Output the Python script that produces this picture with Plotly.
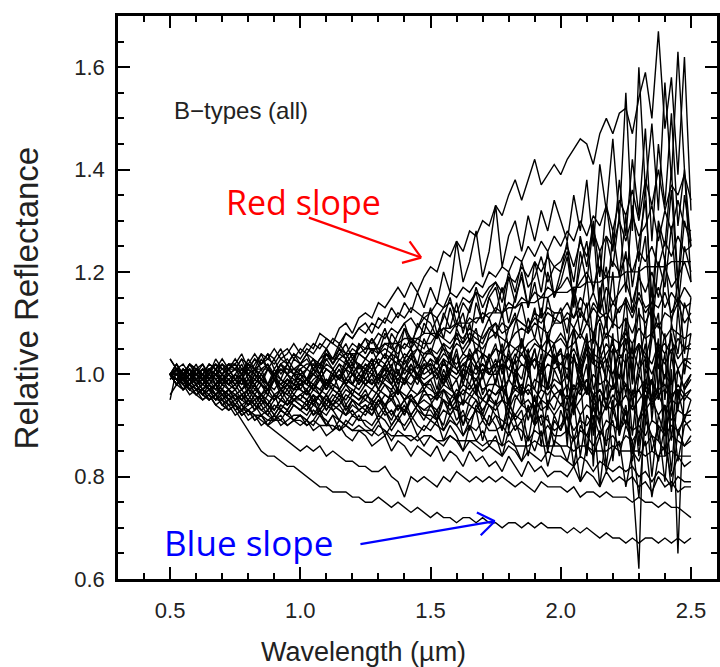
import math
import plotly.graph_objects as go

# Wavelength sampling (micrometres)
WAVELENGTH = [
    0.500, 0.525, 0.550, 0.575, 0.600, 0.625, 0.650, 0.675, 0.700, 0.725,
    0.750, 0.775, 0.800, 0.825, 0.850, 0.875, 0.900, 0.925, 0.950, 0.975,
    1.000, 1.025, 1.050, 1.075, 1.100, 1.125, 1.150, 1.175, 1.200, 1.225,
    1.250, 1.275, 1.300, 1.325, 1.350, 1.375, 1.400, 1.425, 1.450, 1.475,
    1.500, 1.525, 1.550, 1.575, 1.600, 1.625, 1.650, 1.675, 1.700, 1.725,
    1.750, 1.775, 1.800, 1.825, 1.850, 1.875, 1.900, 1.925, 1.950, 1.975,
    2.000, 2.025, 2.050, 2.075, 2.100, 2.125, 2.150, 2.175, 2.200, 2.225,
    2.250, 2.275, 2.300, 2.325, 2.350, 2.375, 2.400, 2.425, 2.450, 2.475,
    2.500,
]

# Relative reflectance of each B-type spectrum, in percent
spec_01 = [99, 101, 100, 102, 100, 99, 101, 100, 102, 101,
           103, 101, 102, 104, 102, 103, 105, 103, 104, 106,
           104, 106, 105, 108, 107, 106, 109, 110, 108, 111,
           112, 111, 114, 113, 115, 117, 115, 118, 116, 119,
           121, 120, 124, 123, 126, 124, 128, 127, 130, 129,
           133, 131, 135, 138, 134, 138, 142, 137, 139, 141,
           139, 142, 144, 146, 145, 141, 147, 150, 147, 151,
           152, 147, 154, 159, 150, 167, 148, 158, 139, 162,
           132]
spec_02 = [100, 99, 101, 100, 101, 102, 100, 103, 101, 102,
           102, 104, 101, 103, 102, 104, 103, 105, 102, 104,
           103, 105, 104, 106, 105, 107, 106, 108, 107, 109,
           110, 108, 111, 110, 113, 111, 114, 112, 116, 113,
           117, 114, 120, 116, 126, 118, 122, 128, 119, 124,
           133, 121, 127, 130, 124, 131, 126, 132, 128, 134,
           130, 126, 135, 128, 138, 125, 141, 132, 146, 130,
           155, 128, 160, 136, 149, 132, 157, 138, 163, 140,
           125]
spec_03 = [100, 102, 100, 101, 99, 101, 100, 102, 101, 100,
           101, 103, 102, 101, 104, 103, 102, 104, 105, 103,
           105, 104, 106, 105, 107, 106, 105, 108, 107, 109,
           108, 110, 109, 111, 110, 112, 111, 113, 112, 111,
           112, 114, 113, 116, 115, 117, 116, 118, 117, 120,
           119, 121, 120, 123, 122, 125, 123, 126, 124, 127,
           125, 128, 126, 130, 127, 131, 129, 133, 128, 134,
           131, 136, 130, 138, 133, 140, 132, 137, 135, 139,
           134]
spec_04 = [100, 98, 100, 99, 100, 101, 99, 100, 98, 99,
           100, 99, 101, 100, 98, 101, 100, 102, 101, 100,
           102, 101, 103, 102, 104, 103, 105, 104, 106, 105,
           107, 106, 108, 107, 109, 108, 110, 111, 109, 112,
           112, 111, 113, 114, 112, 115, 114, 116, 115, 117,
           118, 116, 119, 118, 121, 119, 122, 120, 123, 121,
           122, 125, 121, 126, 123, 128, 124, 127, 125, 130,
           126, 131, 127, 129, 133, 126, 132, 128, 134, 129,
           128]
spec_05 = [100, 101, 99, 102, 100, 98, 101, 99, 100, 102,
           101, 99, 102, 100, 103, 101, 99, 102, 100, 103,
           102, 104, 101, 103, 105, 102, 104, 106, 103, 105,
           107, 104, 106, 109, 105, 108, 110, 106, 109, 111,
           110, 107, 112, 109, 114, 108, 113, 116, 110, 115,
           117, 111, 119, 114, 120, 113, 122, 116, 124, 115,
           120, 126, 113, 124, 118, 129, 112, 127, 121, 131,
           116, 133, 122, 137, 110, 130, 125, 140, 118, 135,
           126]
spec_06 = [99, 100, 98, 100, 99, 97, 99, 98, 100, 98,
           99, 97, 98, 100, 99, 98, 100, 99, 98, 100,
           100, 99, 101, 100, 102, 101, 103, 102, 101, 104,
           103, 102, 104, 105, 104, 106, 105, 107, 106, 105,
           108, 107, 109, 108, 110, 109, 111, 110, 112, 111,
           113, 112, 114, 113, 115, 114, 116, 115, 117, 116,
           117, 119, 116, 118, 120, 117, 121, 119, 122, 120,
           123, 120, 124, 122, 125, 121, 126, 123, 127, 124,
           125]
spec_07 = [100, 100, 101, 100, 100, 101, 101, 100, 101, 101,
           101, 101, 100, 101, 101, 101, 100, 101, 101, 101,
           101, 102, 102, 102, 103, 103, 103, 104, 104, 104,
           105, 105, 105, 106, 106, 106, 107, 107, 107, 108,
           108, 108, 109, 109, 110, 110, 110, 111, 111, 112,
           112, 112, 113, 113, 114, 114, 114, 115, 115, 116,
           116, 116, 117, 117, 118, 118, 118, 119, 119, 119,
           120, 120, 120, 121, 121, 121, 121, 122, 122, 122,
           122]
spec_08 = [100, 99, 100, 98, 99, 100, 98, 97, 99, 98,
           97, 99, 98, 96, 98, 97, 99, 98, 97, 99,
           99, 98, 100, 99, 101, 100, 99, 101, 102, 100,
           102, 101, 103, 102, 104, 103, 102, 104, 105, 103,
           105, 104, 106, 105, 107, 106, 108, 107, 106, 109,
           108, 110, 109, 111, 110, 109, 112, 111, 113, 112,
           112, 114, 111, 115, 113, 116, 112, 117, 114, 116,
           118, 114, 119, 116, 120, 115, 121, 117, 119, 122,
           118]
spec_09 = [103, 101, 99, 101, 100, 99, 101, 98, 100, 99,
           98, 100, 97, 99, 98, 96, 99, 97, 98, 96,
           98, 97, 99, 100, 97, 100, 99, 101, 98, 102,
           100, 103, 99, 102, 104, 100, 103, 105, 101, 104,
           105, 102, 106, 103, 108, 104, 106, 109, 103, 108,
           110, 104, 109, 112, 105, 111, 107, 113, 106, 112,
           112, 105, 116, 108, 114, 102, 117, 109, 120, 104,
           115, 99, 121, 108, 117, 96, 123, 110, 118, 104,
           115]
spec_10 = [100, 101, 100, 99, 101, 100, 102, 101, 100, 102,
           101, 100, 102, 101, 99, 101, 100, 102, 100, 101,
           100, 101, 100, 102, 101, 100, 102, 101, 103, 102,
           101, 103, 102, 104, 103, 102, 104, 103, 105, 104,
           104, 103, 105, 104, 106, 105, 107, 106, 105, 107,
           108, 107, 106, 108, 109, 108, 110, 109, 108, 110,
           110, 111, 109, 112, 110, 113, 111, 112, 110, 113,
           114, 111, 115, 112, 114, 113, 116, 112, 115, 113,
           114]
spec_11 = [100, 98, 99, 97, 98, 99, 97, 96, 98, 97,
           96, 97, 95, 97, 96, 98, 96, 97, 95, 97,
           97, 96, 98, 97, 99, 98, 97, 99, 98, 100,
           99, 98, 100, 99, 101, 100, 99, 101, 100, 102,
           102, 101, 103, 102, 101, 103, 104, 102, 104, 103,
           105, 104, 106, 105, 104, 106, 107, 105, 107, 106,
           108, 106, 109, 107, 110, 108, 111, 107, 110, 109,
           111, 108, 112, 110, 113, 109, 112, 111, 114, 110,
           112]
spec_12 = [100, 99, 101, 100, 98, 100, 99, 101, 99, 98,
           100, 98, 99, 97, 99, 98, 100, 97, 99, 98,
           98, 99, 97, 100, 98, 99, 101, 98, 100, 99,
           101, 98, 100, 102, 99, 101, 98, 102, 100, 103,
           101, 99, 103, 100, 104, 98, 102, 105, 99, 103,
           106, 100, 104, 98, 107, 101, 105, 97, 108, 102,
           105, 96, 109, 100, 106, 93, 110, 102, 107, 95,
           111, 98, 106, 90, 112, 101, 108, 94, 113, 100,
           108]
spec_13 = [100, 100, 99, 98, 100, 99, 97, 98, 99, 97,
           98, 96, 97, 98, 96, 97, 95, 97, 96, 98,
           97, 96, 98, 97, 96, 98, 97, 99, 98, 97,
           99, 98, 100, 99, 98, 100, 99, 101, 100, 99,
           100, 101, 99, 101, 100, 102, 101, 100, 102, 101,
           102, 101, 103, 102, 104, 102, 103, 101, 104, 103,
           104, 103, 105, 102, 106, 104, 103, 106, 104, 105,
           107, 104, 106, 103, 108, 105, 106, 104, 107, 105,
           106]
spec_14 = [100, 101, 99, 100, 98, 99, 97, 98, 96, 97,
           96, 95, 97, 96, 94, 96, 95, 97, 96, 95,
           96, 97, 95, 96, 98, 97, 96, 98, 97, 96,
           98, 97, 99, 98, 97, 99, 98, 100, 99, 98,
           99, 100, 98, 100, 99, 101, 100, 99, 101, 100,
           100, 102, 101, 100, 102, 101, 103, 100, 102, 101,
           102, 101, 103, 100, 104, 102, 101, 103, 100, 104,
           102, 105, 101, 103, 100, 104, 102, 105, 101, 103,
           103]
spec_15 = [103, 101, 100, 99, 101, 100, 98, 100, 99, 101,
           99, 100, 98, 101, 99, 97, 100, 98, 99, 97,
           98, 99, 97, 99, 98, 100, 97, 99, 98, 100,
           98, 99, 97, 100, 98, 96, 99, 97, 100, 98,
           98, 95, 100, 97, 99, 94, 101, 97, 100, 95,
           99, 102, 94, 100, 97, 103, 92, 101, 98, 104,
           100, 91, 104, 97, 102, 88, 105, 99, 93, 103,
           96, 106, 86, 101, 98, 107, 89, 104, 95, 102,
           101]
spec_16 = [100, 99, 98, 99, 97, 98, 97, 96, 97, 95,
           96, 95, 94, 96, 95, 94, 96, 95, 94, 95,
           96, 95, 94, 96, 95, 97, 96, 95, 97, 96,
           95, 97, 96, 98, 96, 97, 95, 97, 96, 98,
           97, 96, 98, 97, 96, 98, 97, 99, 97, 98,
           98, 97, 99, 97, 98, 96, 99, 98, 97, 99,
           98, 100, 97, 99, 96, 100, 98, 99, 97, 100,
           98, 96, 100, 97, 99, 95, 100, 98, 101, 97,
           99]
spec_17 = [100, 98, 100, 97, 98, 96, 97, 95, 96, 94,
           95, 93, 94, 95, 93, 94, 92, 94, 93, 95,
           94, 93, 95, 94, 96, 94, 95, 93, 95, 94,
           96, 95, 94, 96, 95, 97, 95, 96, 94, 96,
           96, 95, 97, 96, 95, 97, 96, 98, 95, 97,
           96, 98, 95, 97, 96, 98, 97, 95, 98, 96,
           97, 95, 98, 96, 99, 95, 97, 94, 98, 96,
           98, 95, 97, 94, 99, 96, 97, 95, 98, 96,
           97]
spec_18 = [100, 101, 99, 100, 98, 99, 97, 98, 97, 96,
           97, 95, 96, 94, 96, 95, 93, 95, 94, 96,
           95, 97, 94, 96, 93, 95, 97, 94, 96, 95,
           97, 94, 96, 93, 97, 95, 92, 96, 94, 97,
           95, 91, 97, 94, 96, 90, 95, 97, 92, 96,
           94, 98, 89, 95, 97, 91, 96, 86, 95, 93,
           97, 88, 94, 99, 85, 96, 92, 98, 83, 95,
           90, 97, 84, 95, 99, 87, 94, 81, 97, 91,
           95]
spec_19 = [100, 99, 97, 98, 96, 97, 95, 96, 94, 95,
           94, 93, 95, 94, 93, 92, 94, 93, 92, 94,
           93, 94, 92, 93, 95, 94, 93, 92, 94, 93,
           94, 93, 95, 94, 92, 94, 93, 95, 94, 93,
           94, 93, 95, 94, 93, 95, 94, 93, 95, 94,
           93, 95, 94, 92, 94, 93, 95, 93, 94, 92,
           94, 93, 95, 92, 94, 93, 91, 94, 93, 95,
           92, 94, 91, 93, 95, 92, 94, 91, 93, 92,
           93]
spec_20 = [96, 98, 99, 97, 98, 96, 97, 95, 97, 96,
           95, 96, 94, 96, 95, 93, 95, 96, 94, 95,
           95, 94, 96, 93, 95, 94, 96, 93, 95, 94,
           93, 95, 92, 94, 96, 93, 95, 92, 94, 93,
           93, 91, 95, 92, 94, 90, 93, 95, 91, 94,
           92, 89, 95, 91, 93, 87, 94, 90, 92, 86,
           93, 89, 95, 84, 92, 90, 96, 82, 93, 89,
           94, 85, 91, 95, 80, 92, 88, 94, 83, 90,
           91]
spec_21 = [100, 99, 98, 96, 97, 95, 96, 94, 95, 93,
           94, 92, 93, 94, 92, 93, 91, 93, 92, 94,
           93, 92, 94, 93, 92, 94, 93, 92, 93, 91,
           93, 92, 94, 92, 93, 91, 93, 92, 94, 92,
           92, 91, 93, 92, 90, 92, 91, 93, 92, 90,
           92, 91, 90, 92, 91, 93, 90, 92, 91, 89,
           90, 92, 89, 91, 90, 92, 88, 91, 90, 89,
           91, 89, 90, 88, 91, 90, 88, 90, 89, 91,
           89]
spec_22 = [95, 101, 99, 98, 99, 97, 98, 96, 97, 95,
           96, 94, 95, 93, 95, 94, 92, 94, 93, 95,
           94, 93, 95, 92, 94, 93, 91, 94, 92, 93,
           92, 94, 91, 93, 90, 92, 94, 91, 93, 92,
           91, 93, 89, 92, 94, 88, 91, 93, 87, 92,
           90, 86, 92, 89, 91, 84, 90, 92, 85, 91,
           89, 92, 82, 90, 88, 92, 78, 89, 91, 84,
           90, 87, 76, 91, 88, 83, 90, 77, 89, 86,
           87]
spec_23 = [100, 99, 99, 98, 97, 97, 96, 95, 95, 94,
           94, 93, 93, 92, 92, 91, 91, 91, 90, 91,
           91, 90, 91, 90, 90, 90, 89, 90, 89, 89,
           89, 89, 88, 89, 88, 88, 88, 88, 87, 88,
           88, 87, 87, 88, 87, 87, 87, 87, 86, 87,
           87, 86, 87, 86, 86, 86, 87, 86, 86, 86,
           86, 86, 85, 86, 86, 85, 85, 85, 86, 85,
           85, 85, 85, 84, 85, 84, 84, 85, 84, 84,
           84]
spec_24 = [100, 98, 99, 97, 96, 97, 95, 96, 94, 93,
           94, 92, 93, 91, 92, 90, 92, 91, 93, 91,
           92, 90, 91, 93, 90, 92, 89, 91, 90, 92,
           90, 89, 91, 88, 90, 92, 89, 91, 88, 90,
           89, 91, 87, 90, 88, 85, 90, 87, 89, 86,
           88, 84, 89, 86, 83, 88, 85, 89, 82, 87,
           86, 83, 88, 79, 86, 84, 88, 81, 85, 87,
           78, 85, 83, 87, 76, 84, 86, 80, 84, 82,
           83]
spec_25 = [100, 99, 97, 98, 96, 95, 96, 94, 93, 94,
           92, 93, 91, 92, 90, 91, 92, 90, 91, 92,
           92, 91, 90, 92, 91, 89, 91, 90, 89, 90,
           89, 88, 90, 89, 87, 89, 88, 87, 88, 86,
           88, 87, 86, 88, 87, 85, 87, 86, 85, 86,
           85, 84, 86, 85, 83, 85, 84, 83, 85, 84,
           84, 83, 82, 84, 83, 81, 83, 82, 81, 82,
           81, 82, 80, 81, 79, 81, 80, 78, 80, 79,
           79]
spec_26 = [100, 99, 100, 98, 99, 97, 98, 96, 97, 95,
           96, 94, 93, 92, 91, 90, 89, 88, 87, 86,
           85, 86, 85, 86, 84, 85, 84, 83, 83, 82,
           82, 81, 81, 82, 80, 79, 76, 80, 79, 80,
           79, 78, 80, 79, 81, 80, 79, 80, 79, 80,
           79, 80, 79, 78, 79, 78, 77, 79, 78, 78,
           78, 77, 78, 76, 77, 77, 76, 77, 76, 76,
           76, 75, 76, 75, 75, 74, 75, 74, 74, 73,
           72]
spec_27 = [100, 98, 99, 97, 98, 96, 95, 96, 94, 93,
           94, 92, 93, 91, 92, 90, 91, 92, 90, 91,
           90, 91, 89, 90, 88, 89, 90, 88, 87, 89,
           88, 86, 87, 88, 85, 87, 86, 84, 86, 85,
           84, 86, 83, 85, 84, 82, 85, 83, 84, 82,
           83, 81, 84, 82, 80, 83, 81, 82, 80, 81,
           81, 80, 82, 79, 81, 80, 78, 81, 79, 80,
           79, 80, 78, 79, 77, 80, 78, 79, 77, 78,
           78]
spec_28 = [100, 100, 99, 100, 99, 98, 99, 97, 96, 95,
           93, 91, 89, 87, 85, 84, 84, 83, 82, 82,
           81, 80, 79, 78, 78, 77, 77, 77, 76, 76,
           75, 75, 76, 75, 74, 75, 74, 73, 74, 73,
           72, 73, 72, 72, 71, 72, 72, 71, 72, 71,
           71, 70, 71, 71, 70, 71, 70, 71, 70, 70,
           70, 69, 70, 69, 70, 69, 68, 69, 68, 68,
           67, 68, 67, 68, 68, 67, 68, 67, 68, 67,
           68]
spec_29 = [100, 102, 99, 101, 98, 100, 99, 101, 98, 99,
           97, 99, 96, 98, 95, 97, 99, 96, 98, 97,
           99, 96, 98, 100, 97, 99, 101, 98, 100, 102,
           99, 101, 98, 102, 100, 97, 103, 100, 98, 101,
           102, 97, 103, 99, 94, 101, 104, 96, 100, 103,
           98, 104, 92, 101, 99, 105, 90, 102, 97, 106,
           100, 86, 104, 98, 107, 82, 103, 99, 108, 88,
           104, 80, 62, 103, 95, 106, 84, 101, 65, 98,
           100]
spec_30 = [100, 101, 100, 102, 101, 100, 102, 101, 103, 101,
           102, 100, 103, 101, 102, 104, 101, 103, 102, 100,
           99, 101, 103, 100, 104, 102, 105, 103, 101, 106,
           104, 107, 105, 103, 108, 106, 109, 105, 110, 108,
           113, 108, 111, 115, 110, 114, 112, 117, 113, 116,
           118, 114, 120, 116, 122, 117, 119, 123, 118, 121,
           120, 124, 118, 127, 121, 130, 119, 133, 124, 138,
           127, 142, 131, 148, 126, 145, 133, 151, 129, 140,
           118]
spec_31 = [100, 98, 101, 99, 100, 102, 99, 101, 100, 98,
           100, 102, 99, 101, 100, 98, 101, 99, 102, 100,
           101, 99, 102, 100, 103, 101, 99, 102, 104, 101,
           103, 105, 102, 104, 101, 106, 103, 105, 102, 107,
           104, 108, 105, 102, 109, 106, 110, 104, 108, 111,
           107, 112, 105, 110, 114, 108, 113, 106, 115, 110,
           113, 108, 117, 111, 119, 106, 116, 121, 109, 118,
           124, 112, 120, 127, 108, 122, 117, 129, 113, 125,
           120]
spec_32 = [100, 101, 99, 100, 98, 100, 101, 99, 97, 99,
           98, 100, 97, 99, 101, 98, 100, 97, 99, 98,
           100, 98, 101, 99, 97, 100, 102, 99, 101, 98,
           100, 102, 99, 101, 98, 103, 100, 102, 99, 101,
           103, 100, 98, 104, 101, 99, 105, 102, 100, 104,
           101, 106, 99, 103, 107, 100, 105, 98, 107, 103,
           105, 99, 109, 102, 96, 108, 104, 111, 98, 106,
           109, 101, 113, 97, 107, 112, 95, 110, 104, 114,
           110]
spec_33 = [100, 99, 100, 101, 99, 98, 100, 99, 98, 100,
           99, 97, 99, 98, 100, 98, 97, 99, 98, 97,
           99, 98, 97, 99, 98, 100, 99, 98, 100, 99,
           98, 100, 99, 101, 100, 99, 101, 100, 102, 100,
           101, 100, 102, 101, 100, 102, 103, 101, 102, 100,
           102, 103, 101, 104, 102, 101, 103, 102, 104, 103,
           102, 104, 103, 101, 105, 103, 102, 104, 106, 103,
           105, 103, 106, 104, 102, 106, 104, 107, 103, 105,
           105]
spec_34 = [100, 102, 100, 98, 101, 99, 100, 98, 99, 100,
           98, 99, 97, 100, 98, 96, 99, 97, 98, 100,
           97, 99, 98, 96, 99, 97, 100, 98, 96, 99,
           98, 100, 97, 99, 101, 96, 99, 98, 100, 97,
           99, 96, 101, 98, 95, 100, 98, 102, 96, 99,
           101, 95, 99, 103, 94, 100, 97, 104, 93, 101,
           98, 104, 92, 100, 97, 105, 90, 102, 99, 94,
           103, 88, 100, 106, 93, 98, 104, 87, 101, 97,
           100]
spec_35 = [100, 99, 97, 98, 99, 97, 96, 98, 96, 97,
           95, 96, 97, 95, 96, 94, 96, 95, 97, 95,
           96, 95, 97, 96, 94, 96, 95, 97, 96, 95,
           96, 95, 97, 96, 95, 97, 96, 95, 96, 97,
           95, 96, 97, 95, 97, 96, 98, 96, 95, 97,
           96, 97, 95, 98, 96, 97, 95, 97, 96, 98,
           96, 98, 95, 97, 99, 96, 97, 95, 98, 96,
           98, 96, 97, 99, 95, 97, 98, 96, 97, 95,
           97]
spec_36 = [100, 98, 99, 97, 98, 96, 97, 98, 95, 96,
           94, 96, 95, 93, 95, 94, 96, 93, 95, 94,
           93, 95, 92, 94, 96, 93, 94, 92, 95, 93,
           94, 92, 95, 93, 91, 94, 92, 95, 93, 91,
           94, 92, 90, 95, 91, 93, 89, 94, 92, 90,
           95, 89, 93, 91, 87, 94, 90, 95, 86, 92,
           89, 95, 87, 92, 84, 94, 90, 86, 95, 88,
           93, 83, 91, 96, 85, 90, 79, 94, 88, 92,
           92]
spec_37 = [100, 101, 102, 100, 101, 99, 101, 102, 100, 101,
           102, 100, 101, 103, 101, 102, 100, 102, 103, 101,
           102, 103, 101, 103, 104, 102, 104, 103, 105, 104,
           103, 105, 104, 106, 105, 104, 106, 105, 107, 106,
           106, 108, 107, 106, 108, 107, 109, 108, 107, 109,
           110, 108, 109, 111, 110, 109, 111, 110, 112, 111,
           110, 112, 111, 113, 110, 114, 112, 111, 114, 112,
           115, 112, 116, 113, 114, 117, 113, 116, 114, 117,
           115]
spec_38 = [100, 99, 100, 102, 101, 100, 99, 101, 102, 100,
           101, 103, 100, 102, 104, 101, 103, 100, 102, 104,
           102, 104, 103, 101, 105, 103, 106, 104, 102, 106,
           105, 107, 104, 108, 106, 103, 109, 107, 105, 110,
           108, 111, 107, 113, 109, 112, 106, 114, 110, 115,
           112, 117, 110, 115, 119, 113, 118, 111, 120, 115,
           118, 123, 114, 121, 126, 116, 124, 112, 128, 119,
           131, 117, 126, 134, 115, 129, 122, 136, 117, 130,
           125]
spec_39 = [100, 99, 98, 97, 98, 96, 95, 96, 94, 95,
           93, 94, 92, 93, 94, 92, 91, 93, 92, 91,
           92, 91, 93, 92, 90, 92, 91, 90, 92, 91,
           91, 90, 92, 91, 89, 91, 90, 92, 90, 89,
           91, 90, 89, 91, 90, 88, 90, 89, 91, 89,
           89, 90, 88, 90, 89, 87, 89, 88, 90, 88,
           88, 89, 87, 89, 88, 86, 89, 87, 88, 86,
           88, 87, 89, 86, 88, 87, 85, 88, 87, 86,
           88]
spec_40 = [100, 101, 98, 100, 102, 99, 101, 100, 98, 101,
           99, 101, 100, 98, 100, 102, 99, 101, 100, 98,
           101, 99, 100, 102, 98, 101, 99, 103, 100, 98,
           101, 103, 99, 100, 102, 98, 101, 104, 99, 102,
           100, 103, 98, 101, 105, 99, 102, 97, 104, 100,
           103, 98, 105, 100, 96, 104, 101, 106, 97, 103,
           100, 106, 95, 103, 108, 97, 101, 93, 105, 99,
           107, 94, 102, 109, 91, 104, 99, 108, 93, 103,
           102]
spec_41 = [100, 100, 99, 101, 100, 99, 98, 100, 99, 98,
           99, 98, 100, 99, 98, 97, 99, 98, 100, 99,
           98, 99, 100, 99, 101, 100, 99, 101, 100, 102,
           101, 100, 102, 101, 103, 102, 101, 103, 102, 101,
           103, 102, 104, 103, 102, 104, 103, 105, 104, 103,
           105, 104, 103, 105, 106, 104, 106, 105, 104, 106,
           107, 105, 106, 108, 106, 107, 105, 108, 107, 106,
           108, 106, 109, 107, 108, 110, 107, 109, 108, 107,
           108]
spec_42 = [100, 98, 97, 99, 97, 96, 98, 96, 95, 97,
           95, 96, 94, 95, 96, 94, 93, 95, 94, 96,
           95, 94, 96, 95, 93, 95, 94, 96, 95, 94,
           95, 94, 96, 94, 95, 93, 95, 96, 94, 95,
           94, 96, 95, 93, 95, 94, 96, 95, 93, 95,
           94, 95, 93, 96, 94, 95, 93, 95, 94, 96,
           94, 96, 93, 95, 97, 94, 95, 93, 96, 94,
           96, 93, 95, 97, 94, 96, 93, 95, 94, 96,
           95]

SPECTRA = [spec_01, spec_02, spec_03, spec_04, spec_05, spec_06, spec_07, spec_08,
           spec_09, spec_10, spec_11, spec_12, spec_13, spec_14, spec_15, spec_16,
           spec_17, spec_18, spec_19, spec_20, spec_21, spec_22, spec_23, spec_24,
           spec_25, spec_26, spec_27, spec_28, spec_29, spec_30, spec_31, spec_32,
           spec_33, spec_34, spec_35, spec_36, spec_37, spec_38, spec_39, spec_40,
           spec_41, spec_42]

X_TICKS = [0.5, 1.0, 1.5, 2.0, 2.5]
X_TICK_TEXT = ["0.5", "1.0", "1.5", "2.0", "2.5"]
Y_TICKS = [0.6, 0.8, 1.0, 1.2, 1.4, 1.6]
Y_TICK_TEXT = ["0.6", "0.8", "1.0", "1.2", "1.4", "1.6"]

FONT = "Liberation Sans, Arial, Helvetica, sans-serif"
ANNOT_FONT = "Open Sans, Noto Sans, sans-serif"

X_RANGE = [0.3, 2.6]
Y_RANGE = [0.6, 1.7]
PLOT_W = 720 - 118
PLOT_H = 667 - 16 - 88

fig = go.Figure()
for vals in SPECTRA:
    n = min(len(vals), len(WAVELENGTH))
    fig.add_trace(go.Scatter(
        x=WAVELENGTH[:n], y=[v / 100 for v in vals[:n]],
        mode="lines", line=dict(color="black", width=1.4),
        showlegend=False, hoverinfo="skip",
    ))

axis_common = dict(
    showline=True, linecolor="black", linewidth=2.5, mirror="ticks",
    ticks="inside", ticklen=12, tickwidth=2, tickcolor="black",
    showgrid=False, zeroline=False,
    tickfont=dict(family=FONT, size=22, color="#222222"),
)

fig.update_xaxes(
    range=X_RANGE, tickvals=X_TICKS, ticktext=X_TICK_TEXT,
    minor=dict(dtick=0.1, tick0=0.5, ticks="inside", ticklen=6, tickwidth=2, tickcolor="black"),
    ticklabelstandoff=10, **axis_common,
)
fig.update_yaxes(
    range=Y_RANGE, tickvals=Y_TICKS, ticktext=Y_TICK_TEXT,
    minor=dict(dtick=0.05, tick0=0.6, ticks="inside", ticklen=6, tickwidth=2, tickcolor="black"),
    ticklabelstandoff=6, **axis_common,
)

# Annotation arrows (tail -> tip) in data units, with open "V" heads
ARROWS = [
    dict(tail=(1.033, 1.306), tip=(1.464, 1.228), color="#ff0000"),
    dict(tail=(1.231, 0.668), tip=(1.747, 0.713), color="#0000ff"),
]
px_per_x = PLOT_W / (X_RANGE[1] - X_RANGE[0])
px_per_y = PLOT_H / (Y_RANGE[1] - Y_RANGE[0])
shapes = []
for a in ARROWS:
    (x0, y0), (x1, y1) = a["tail"], a["tip"]
    shapes.append(dict(type="line", xref="x", yref="y", x0=x0, y0=y0, x1=x1, y1=y1,
                       line=dict(color=a["color"], width=2.2)))
    dxp = (x1 - x0) * px_per_x
    dyp = (y1 - y0) * px_per_y
    ang = math.atan2(dyp, dxp)
    for off in (math.radians(35), -math.radians(35)):
        back = ang + math.pi + off
        wx = x1 + 20 * math.cos(back) / px_per_x
        wy = y1 + 20 * math.sin(back) / px_per_y
        shapes.append(dict(type="line", xref="x", yref="y", x0=wx, y0=wy, x1=x1, y1=y1,
                           line=dict(color=a["color"], width=2.2)))

annotations = [
    dict(text="Wavelength (µm)", xref="x", yref="paper", x=1.243, y=-0.13,
         xanchor="center", yanchor="middle", showarrow=False,
         font=dict(family=FONT, size=27, color="#222222")),
    dict(text="Relative Reflectance", xref="paper", yref="paper", x=-0.152, y=0.5,
         xanchor="center", yanchor="middle", textangle=-90, showarrow=False,
         font=dict(family=FONT, size=33, color="#222222")),
    dict(text="B−types (all)", x=0.506, y=1.516, xanchor="left", yanchor="middle",
         showarrow=False, font=dict(family=FONT, size=24, color="#222222")),
    dict(text="Red slope", x=1.014, y=1.337, xanchor="center", yanchor="middle",
         showarrow=False, font=dict(family=ANNOT_FONT, size=34, color="#ff0000")),
    dict(text="Blue slope", x=0.800, y=0.672, xanchor="center", yanchor="middle",
         showarrow=False, font=dict(family=ANNOT_FONT, size=35, color="#0000ff")),
]

fig.update_layout(
    width=720, height=667,
    margin=dict(l=118, r=0, t=16, b=88),
    paper_bgcolor="white", plot_bgcolor="white",
    annotations=annotations, shapes=shapes,
)

fig.write_html("out.html")
